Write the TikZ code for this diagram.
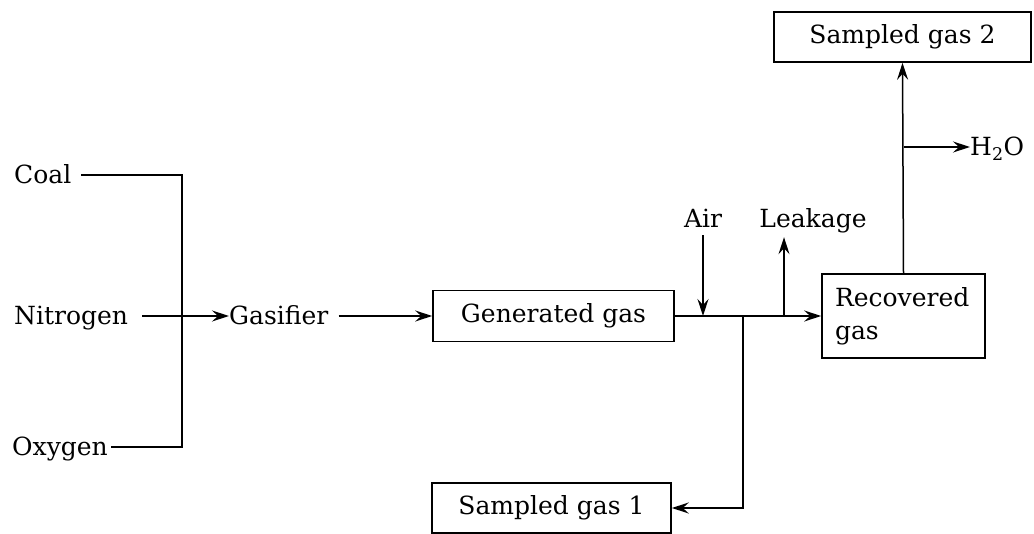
\documentclass[tikz,border=0pt]{standalone}
\usepackage{fontspec}
\setmainfont{DejaVu Serif}
\usetikzlibrary{arrows.meta}
\tikzset{
  lbl/.style={inner sep=0pt, text height=20pt, text depth=2pt, font=\fontsize{25}{33}\selectfont},
  boxnode/.style={draw, line width=1.6pt, inner sep=0pt, font=\fontsize{25}{33}\selectfont},
  flow/.style={line width=1.5pt},
  arr/.style={line width=1.5pt, -{Stealth[length=17pt,width=11pt,inset=6pt]}}
}
\begin{document}
\begin{tikzpicture}[x=1pt,y=-1pt]
\useasboundingbox (0,0) rectangle (1034,534);
% labels
\node[lbl, anchor=west] (coal) at (14,175) {Coal};
\node[lbl, anchor=west] (nitrogen) at (14,316) {Nitrogen};
\node[lbl, anchor=west] (oxygen) at (12,447) {Oxygen};
\node[lbl, anchor=west] (gasifier) at (229,316) {Gasifier};
\node[lbl] (air) at (703,219) {Air};
\node[lbl] (leakage) at (813,219) {Leakage};
\node[lbl, anchor=west] (h2o) at (970,147) {H\textsubscript{2}O};
% boxes
\node[boxnode, minimum width=241pt, minimum height=51pt] (gen) at (553.5,316) {Generated gas};
\node[boxnode, minimum width=239pt, minimum height=50pt] (s1) at (551.5,508) {Sampled gas 1};
\node[boxnode, minimum width=257pt, minimum height=50pt] (s2) at (902.5,37) {Sampled gas 2};
\node[boxnode, minimum width=163pt, minimum height=84pt, text width=137pt, inner xsep=13pt, align=left] (rec) at (903.5,316) {Recovered\\gas};
% junctions
\coordinate (bar) at (182,175);
\coordinate (airj) at (703,316);
\coordinate (splitj) at (743,316);
\coordinate (leakj) at (784,316);
\coordinate (h2oj) at (904,147);
% connectors
\draw[flow] ([xshift=10pt]coal.east) -- (bar) |- ([xshift=3pt]oxygen.east);
\draw[arr] ([xshift=14pt]nitrogen.east) -- (gasifier.west);
\draw[arr] ([xshift=10pt]gasifier.east) -- (gen.west);
\draw[arr] (gen.east) -- (rec.west);
\draw[arr] ([yshift=-5pt]air.south) -- (airj);
\draw[arr] (leakj) -- ([yshift=-7pt]leakage.south -| leakj);
\draw[arr] (splitj) |- (s1.east);
\draw[arr] (rec.north) -- (s2.south);
\draw[arr] (h2oj) -- (h2o.west);
\end{tikzpicture}
\end{document}
